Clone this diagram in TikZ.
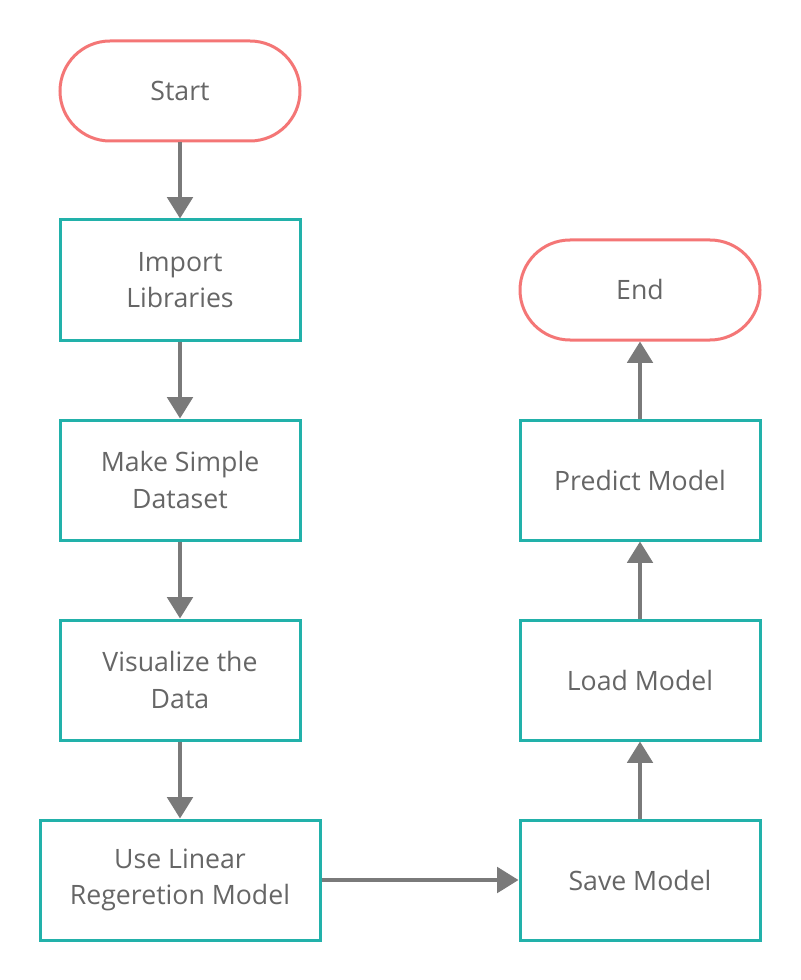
\documentclass[tikz,border=0pt]{standalone}
\usepackage{fontspec}
\setmainfont{Open Sans}
\usetikzlibrary{arrows.meta}
\definecolor{termred}{HTML}{F47676}
\definecolor{boxteal}{HTML}{22B1AA}
\definecolor{flowgrey}{HTML}{7A7A7A}
\definecolor{txtgrey}{HTML}{666666}

\tikzset{
  terminal/.style={draw=termred,line width=2.25pt,rounded corners=37.5pt,minimum width=180pt,minimum height=75pt,fill=white,text=txtgrey,align=center,font=\fontsize{20}{27.5}\selectfont},
  process/.style={draw=boxteal,line width=2.25pt,minimum width=180pt,minimum height=90pt,fill=white,text=txtgrey,align=center,font=\fontsize{20}{27.5}\selectfont},
  flow/.style={draw=flowgrey,line width=3pt,->}
}

\begin{document}
\begin{tikzpicture}[x=0.75pt,y=-0.75pt,>={Triangle[length=16pt,width=19pt]}]
\useasboundingbox (0,0) rectangle (800,980);
% left column
\node[terminal] (start) at (180,91) {Start};
\node[process] (import) at (180,280) {Import\\Libraries};
\node[process] (dataset) at (180,480) {Make Simple\\Dataset};
\node[process] (visual) at (180,680) {Visualize the\\Data};
\node[process,minimum width=210pt] (linreg) at (180,880) {Use Linear\\Regeretion Model};
% right column
\node[process] (save) at (640,880) {Save Model};
\node[process] (load) at (640,680) {Load Model};
\node[process] (predict) at (640,480) {Predict Model};
\node[terminal] (end) at (640,290) {End};
% connectors
\draw[flow] (start) -- (import);
\draw[flow] (import) -- (dataset);
\draw[flow] (dataset) -- (visual);
\draw[flow] (visual) -- (linreg);
\draw[flow] (linreg) -- (save);
\draw[flow] (save) -- (load);
\draw[flow] (load) -- (predict);
\draw[flow] (predict) -- (end);
\end{tikzpicture}
\end{document}
